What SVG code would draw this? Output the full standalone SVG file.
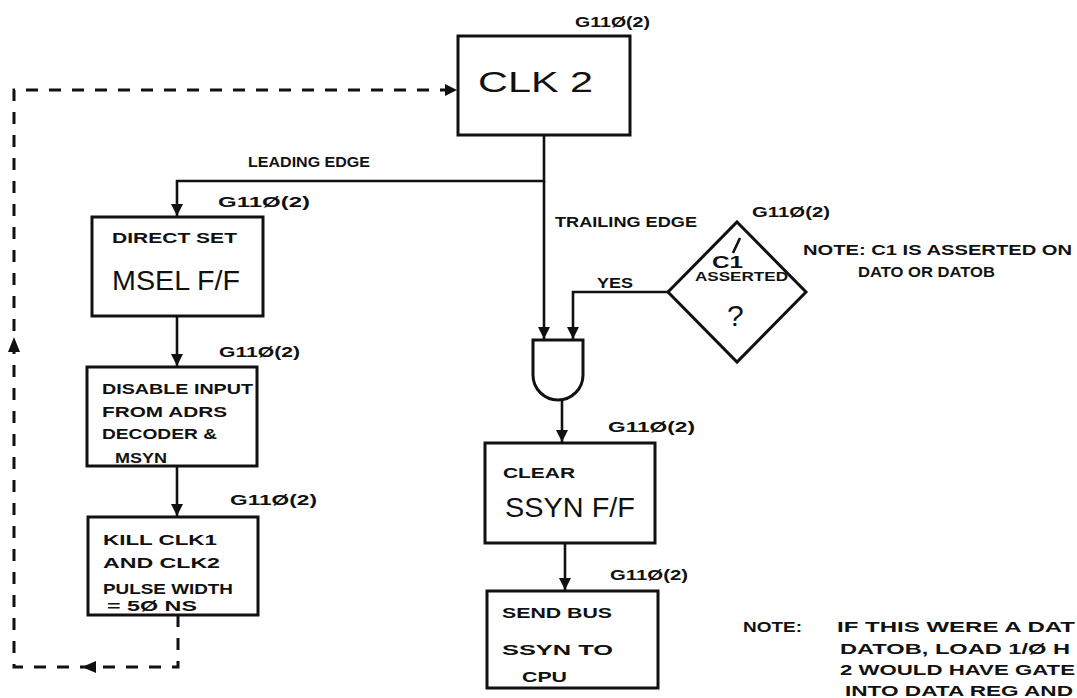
<svg xmlns="http://www.w3.org/2000/svg" width="1077" height="698" viewBox="0 0 1077 698">
<defs>
<marker id="ah" markerUnits="userSpaceOnUse" markerWidth="14" markerHeight="12" refX="12" refY="6" orient="auto">
<path d="M0,0 L12,6 L0,12 Z" fill="#111"/>
</marker>
<style>
.box{fill:none;stroke:#111;stroke-width:3}
.ln{fill:none;stroke:#111;stroke-width:2.6}
.dash{fill:none;stroke:#111;stroke-width:3;stroke-dasharray:12 11}
text{font-family:"Liberation Sans","DejaVu Sans",sans-serif;fill:#111}
.s{font-size:15px;font-weight:bold}
.g{font-size:15px;font-weight:bold}
.b{font-size:27px}
</style>
</defs>
<rect width="1077" height="698" fill="#fff"/>

<g id="connectors">
<path class="ln" d="M544,135 L544,181 L177,181 L177,216" marker-end="url(#ah)"/>
<path class="ln" d="M544,181 L544,339" marker-end="url(#ah)"/>
<path class="ln" d="M668,292 L573,292 L573,339" marker-end="url(#ah)"/>
<path class="ln" d="M177,316 L177,366" marker-end="url(#ah)"/>
<path class="ln" d="M177,466 L177,516" marker-end="url(#ah)"/>
<path class="ln" d="M562,400 L562,442" marker-end="url(#ah)"/>
<path class="ln" d="M565,543 L565,590" marker-end="url(#ah)"/>
<path class="dash" d="M178,615 L178,667 L14,667 L14,90 L457,90" marker-end="url(#ah)"/>
<path d="M14,337 L8,352 L20,352 Z" fill="#111"/>
<path d="M82,667 L96,661 L96,673 Z" fill="#111"/>
</g>

<g id="clk2">
<rect class="box" x="458" y="36" width="172" height="99"/>
<text x="478" y="92" font-size="30" textLength="115" lengthAdjust="spacingAndGlyphs">CLK 2</text>
<text class="g" x="575" y="27" textLength="75" lengthAdjust="spacingAndGlyphs">G11Ø(2)</text>
</g>

<g id="leading-label">
<text class="s" x="248" y="167" textLength="122" lengthAdjust="spacingAndGlyphs">LEADING EDGE</text>
</g>

<g id="msel">
<rect class="box" x="92" y="217" width="171" height="99"/>
<text class="g" x="218" y="207" textLength="92" lengthAdjust="spacingAndGlyphs">G11Ø(2)</text>
<text class="s" x="112" y="243" textLength="125" lengthAdjust="spacingAndGlyphs">DIRECT SET</text>
<text class="b" x="112" y="290" textLength="128" lengthAdjust="spacingAndGlyphs">MSEL F/F</text>
</g>

<g id="disable">
<rect class="box" x="87" y="367" width="170" height="99"/>
<text class="g" x="219" y="357" textLength="81" lengthAdjust="spacingAndGlyphs">G11Ø(2)</text>
<text class="s" x="102" y="394" textLength="151" lengthAdjust="spacingAndGlyphs">DISABLE INPUT</text>
<text class="s" x="102" y="417" textLength="125" lengthAdjust="spacingAndGlyphs">FROM ADRS</text>
<text class="s" x="102" y="439" textLength="115" lengthAdjust="spacingAndGlyphs">DECODER &amp;</text>
<text class="s" x="115" y="463" textLength="52" lengthAdjust="spacingAndGlyphs">MSYN</text>
</g>

<g id="kill">
<rect class="box" x="88" y="517" width="170" height="98"/>
<text class="g" x="230" y="505" textLength="87" lengthAdjust="spacingAndGlyphs">G11Ø(2)</text>
<text class="s" x="103" y="545" textLength="114" lengthAdjust="spacingAndGlyphs">KILL CLK1</text>
<text class="s" x="103" y="568" textLength="117" lengthAdjust="spacingAndGlyphs">AND CLK2</text>
<text class="s" x="103" y="594" textLength="130" lengthAdjust="spacingAndGlyphs">PULSE WIDTH</text>
<text class="s" x="107" y="611" textLength="90" lengthAdjust="spacingAndGlyphs">= 5Ø NS</text>
</g>

<g id="trailing-label">
<text class="s" x="555" y="227" textLength="142" lengthAdjust="spacingAndGlyphs">TRAILING EDGE</text>
</g>

<g id="decision">
<path class="box" d="M737,222 L806,292 L737,362 L668,292 Z"/>
<text class="g" x="752" y="217" textLength="78" lengthAdjust="spacingAndGlyphs">G11Ø(2)</text>
<text x="712" y="268" font-size="17" font-weight="bold" textLength="31" lengthAdjust="spacingAndGlyphs">C1</text>
<path class="ln" d="M740,238 L733,253" stroke-width="2"/>
<text x="695" y="281" font-size="12" font-weight="bold" textLength="93" lengthAdjust="spacingAndGlyphs">ASSERTED</text>
<text x="727" y="326" font-size="30">?</text>
<text class="s" x="597" y="288" textLength="36" lengthAdjust="spacingAndGlyphs">YES</text>
</g>

<g id="note1">
<text class="s" x="803" y="255" textLength="269" lengthAdjust="spacingAndGlyphs">NOTE: C1 IS ASSERTED ON</text>
<text class="s" x="858" y="277" textLength="137" lengthAdjust="spacingAndGlyphs">DATO OR DATOB</text>
</g>

<g id="and-gate">
<path class="box" d="M533,340 L583,340 L583,375 A25,25 0 0 1 533,375 Z"/>
</g>

<g id="clear">
<rect class="box" x="485" y="443" width="170" height="100"/>
<text class="g" x="608" y="432" textLength="87" lengthAdjust="spacingAndGlyphs">G11Ø(2)</text>
<text class="s" x="503" y="478" textLength="72" lengthAdjust="spacingAndGlyphs">CLEAR</text>
<text class="b" x="505" y="517" textLength="130" lengthAdjust="spacingAndGlyphs">SSYN F/F</text>
</g>

<g id="send">
<rect class="box" x="487" y="591" width="171" height="97"/>
<text class="g" x="610" y="580" textLength="78" lengthAdjust="spacingAndGlyphs">G11Ø(2)</text>
<text class="s" x="502" y="618" textLength="110" lengthAdjust="spacingAndGlyphs">SEND BUS</text>
<text class="s" x="502" y="655" textLength="111" lengthAdjust="spacingAndGlyphs">SSYN TO</text>
<text class="s" x="522" y="682" textLength="45" lengthAdjust="spacingAndGlyphs">CPU</text>
</g>

<g id="note2">
<text class="s" x="743" y="632" textLength="59" lengthAdjust="spacingAndGlyphs">NOTE:</text>
<text class="s" x="837" y="632" textLength="238" lengthAdjust="spacingAndGlyphs">IF THIS WERE A DAT</text>
<text class="s" x="840" y="654" textLength="230" lengthAdjust="spacingAndGlyphs">DATOB, LOAD 1/Ø H</text>
<text class="s" x="840" y="675" textLength="235" lengthAdjust="spacingAndGlyphs">2 WOULD HAVE GATE</text>
<text class="s" x="845" y="696" textLength="228" lengthAdjust="spacingAndGlyphs">INTO DATA REG AND</text>
</g>
</svg>
